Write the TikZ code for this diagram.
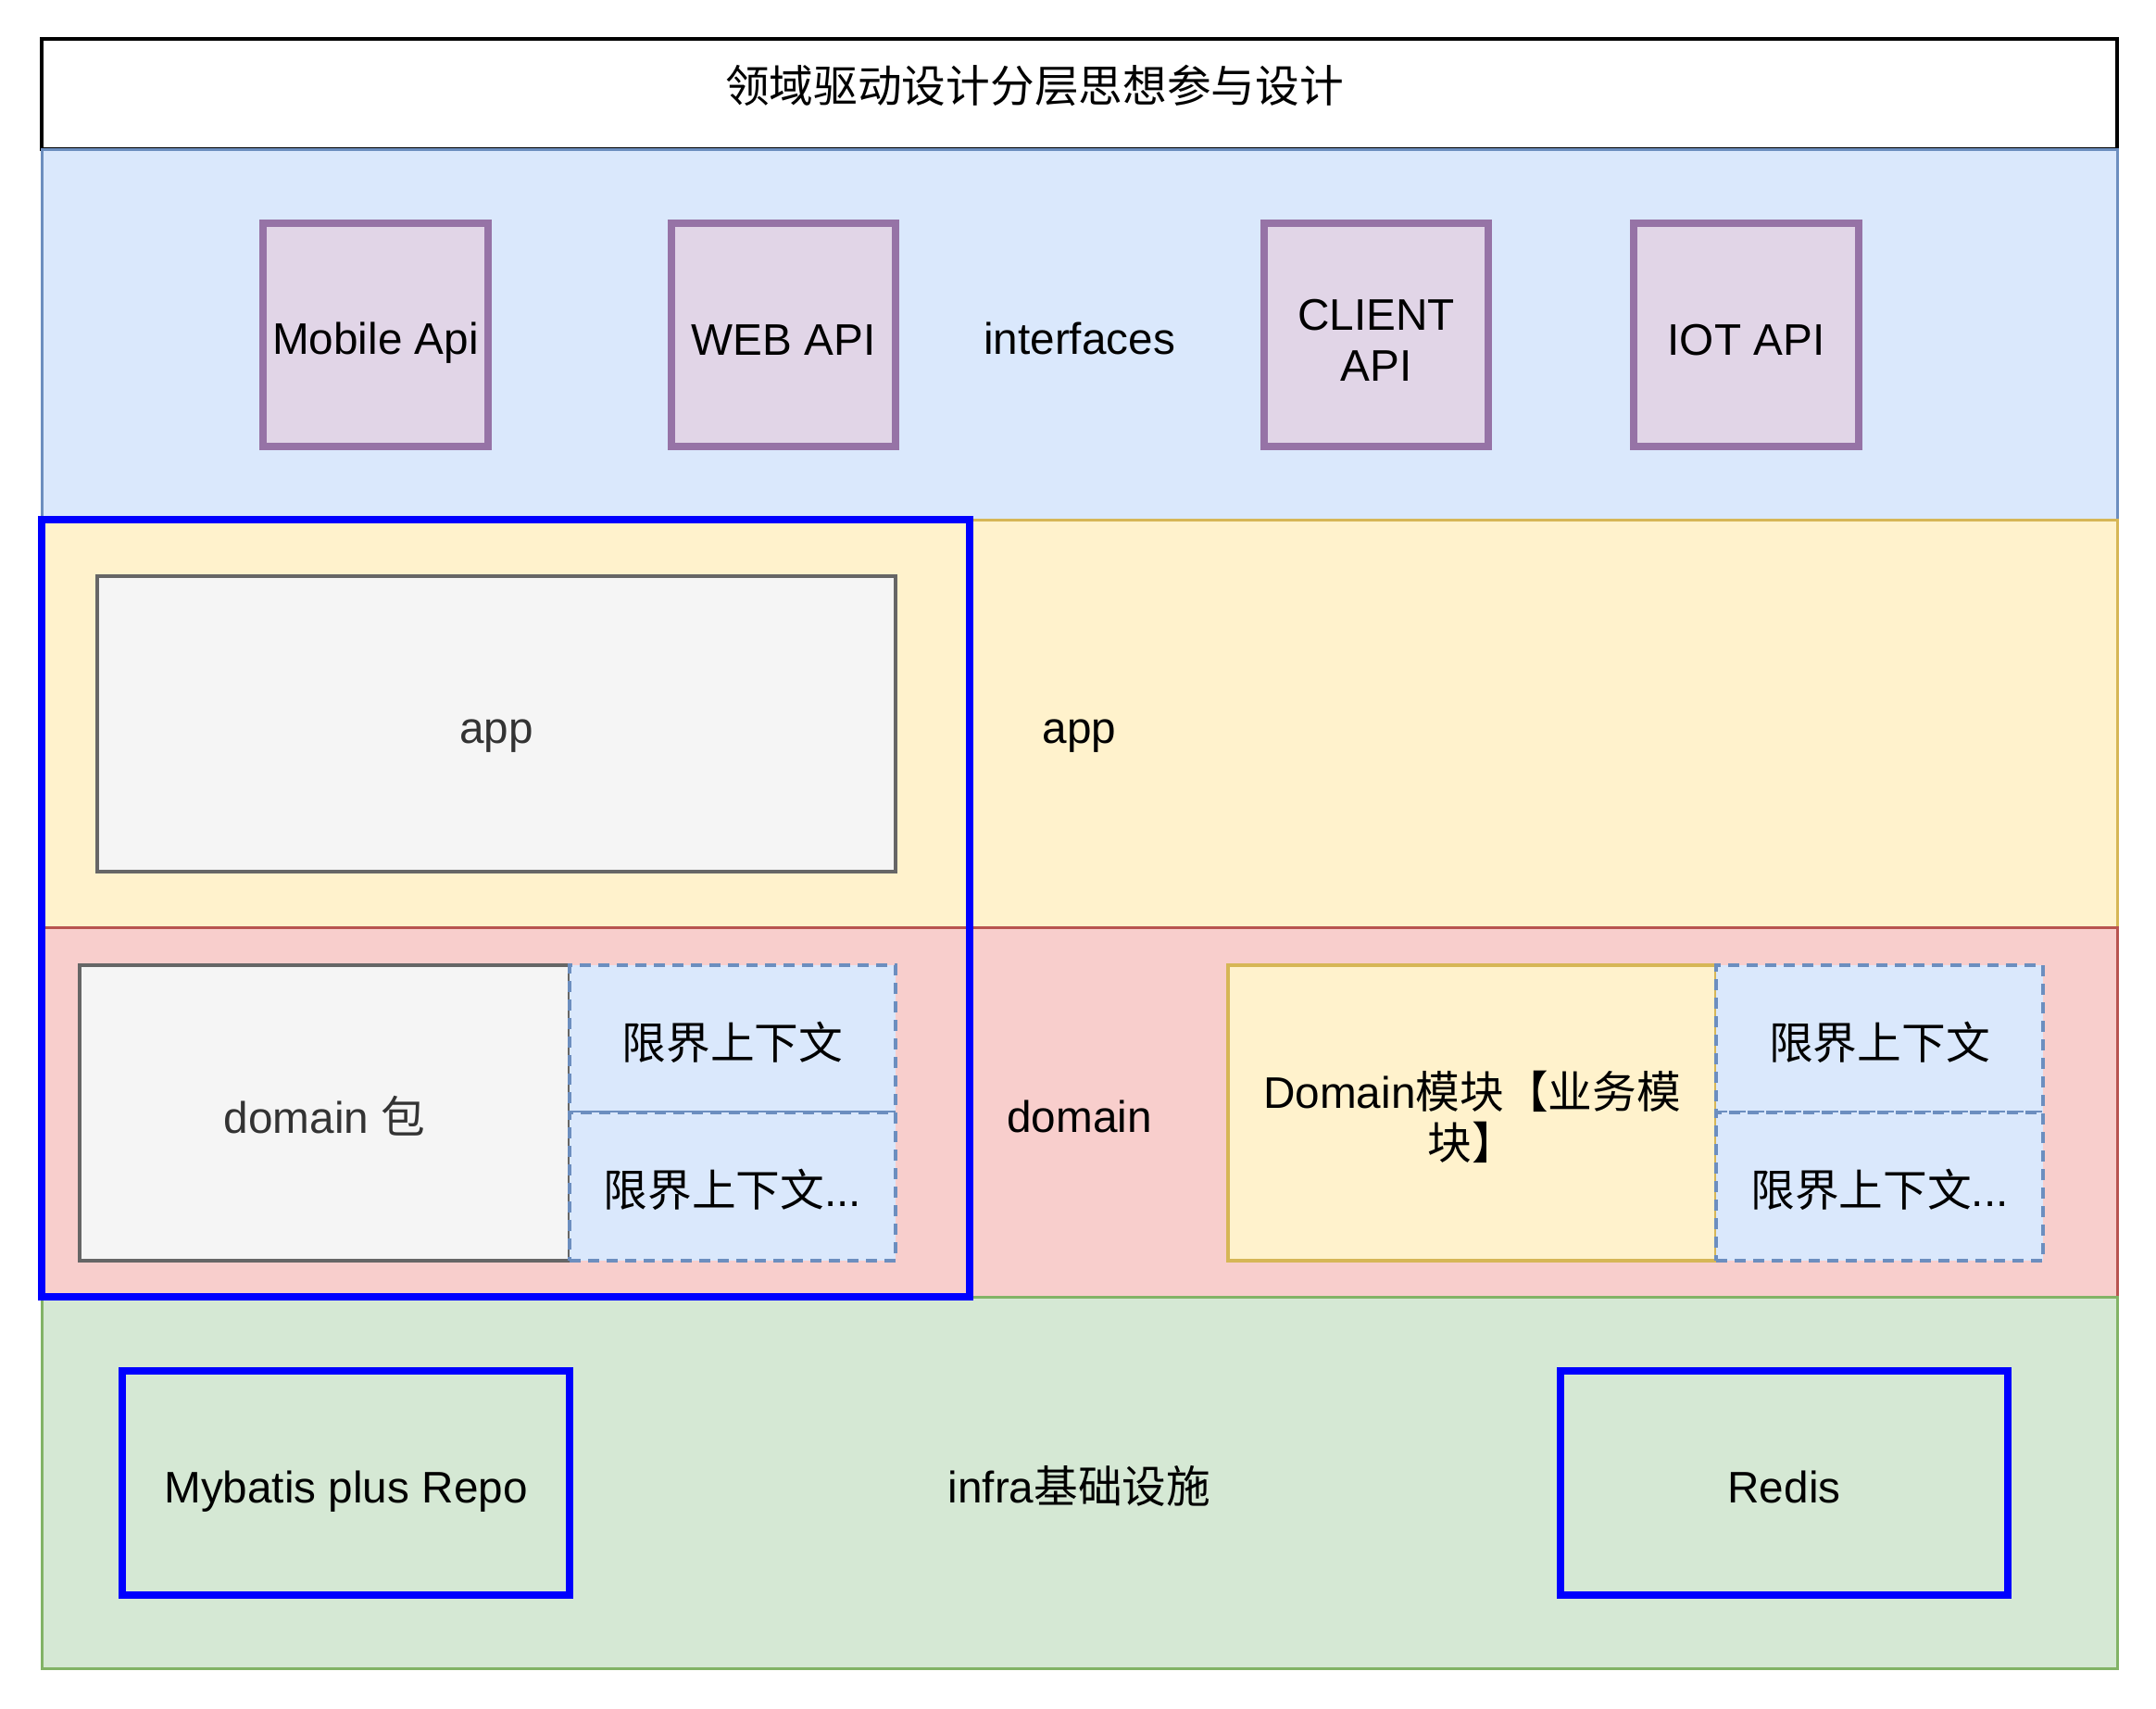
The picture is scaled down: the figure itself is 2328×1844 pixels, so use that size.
\documentclass[tikz,border=0pt]{standalone}
\usepackage{fontspec}
\setmainfont{Liberation Sans}
\newfontfamily\cjk{Noto Sans CJK SC}
\definecolor{ifill}{HTML}{DAE8FC}
\definecolor{istroke}{HTML}{6C8EBF}
\definecolor{afill}{HTML}{FFF2CC}
\definecolor{astroke}{HTML}{D6B656}
\definecolor{dfill}{HTML}{F8CECC}
\definecolor{dstroke}{HTML}{B85450}
\definecolor{nfill}{HTML}{D5E8D4}
\definecolor{nstroke}{HTML}{82B366}
\definecolor{pfill}{HTML}{E1D5E7}
\definecolor{pstroke}{HTML}{9673A6}
\definecolor{gfill}{HTML}{F5F5F5}
\definecolor{gstroke}{HTML}{666666}
\definecolor{gtext}{HTML}{333333}
\definecolor{pureblue}{HTML}{0000FF}
\newcommand\mystrut{\rule[-9.5pt]{0pt}{62pt}}
\begin{document}
\begin{tikzpicture}[x=1pt,y=-1pt,
  font=\fontsize{47.7}{55}\selectfont,
  bx/.style={rectangle, inner sep=0pt, outer sep=0pt, align=center, anchor=north west,
     execute at begin node=\mystrut, execute at end node=\mystrut},
  sz/.style 2 args={minimum width=#1pt, minimum height=#2pt},
  titlebox/.style={bx, draw=black, fill=white, line width=4.5pt},
  ifclayer/.style={bx, fill=ifill, draw=istroke, line width=3pt},
  applayer/.style={bx, fill=afill, draw=astroke, line width=3pt},
  domlayer/.style={bx, fill=dfill, draw=dstroke, line width=3pt},
  infralayer/.style={bx, fill=nfill, draw=nstroke, line width=3pt},
  apibox/.style={bx, fill=pfill, draw=pstroke, line width=7.5pt},
  graybox/.style={bx, fill=gfill, draw=gstroke, line width=3.5pt, text=gtext},
  ctxbox/.style={bx, fill=ifill, draw=istroke, line width=3.5pt, dash pattern=on 12pt off 8pt},
  modbox/.style={bx, fill=afill, draw=astroke, line width=3.5pt},
  bluebox/.style={bx, draw=pureblue, line width=7.5pt},
  bluefill/.style={bluebox, fill=nfill}
]
\useasboundingbox (0,0) rectangle (2328,1844);
% title
\node[titlebox, sz={2241}{119}] (title) at (45,42) {};
\node[bx, anchor=center] (titletext) at (1117,89) {\cjk 领域驱动设计分层思想参与设计};
% interfaces layer
\node[ifclayer, sz={2241}{400}] (ifc) at (45,161) {interfaces};
\node[apibox, sz={243}{241}] (mobile) at (284,241) {Mobile Api};
\node[apibox, sz={242}{241}] (web) at (725,241) {WEB API};
\node[apibox, sz={242}{241}] (client) at (1365,241) {\rule{0pt}{55pt}CLIENT\\API};
\node[apibox, sz={243}{241}] (iot) at (1764,241) {IOT API};
% app layer
\node[applayer, sz={2241}{440}] (app) at (45,561) {app};
\node[graybox, sz={862}{319}] (appbox) at (105,622) {app};
% domain layer
\node[domlayer, sz={2241}{399}] (dom) at (45,1001) {domain};
\node[graybox, sz={529}{319}] (dompkg) at (86,1042) {domain {\cjk 包}};
\node[ctxbox, sz={352}{159}] (ctxa) at (615,1042) {\cjk 限界上下文};
\node[ctxbox, sz={352}{160}] (ctxb) at (615,1201) {{\cjk 限界上下文}...};
\node[modbox, sz={527}{319}] (dommod) at (1326,1042) {\rule{0pt}{54.5pt}Domain{\cjk 模块【业务模}\\{\cjk 块】}};
\node[ctxbox, sz={353}{159}] (ctxc) at (1853,1042) {\cjk 限界上下文};
\node[ctxbox, sz={353}{160}] (ctxd) at (1853,1201) {{\cjk 限界上下文}...};
% infra layer
\node[infralayer, sz={2241}{401}] (infra) at (45,1400) {infra{\cjk 基础设施}};
\node[bluefill, sz={483}{242}] (mybatis) at (132,1480) {Mybatis plus Repo};
\node[bluefill, sz={483}{242}] (redis) at (1685,1480) {Redis};
% blue frame over app+domain
\node[bluebox, sz={1002}{839}] (frame) at (45,561) {};
\end{tikzpicture}
\end{document}
